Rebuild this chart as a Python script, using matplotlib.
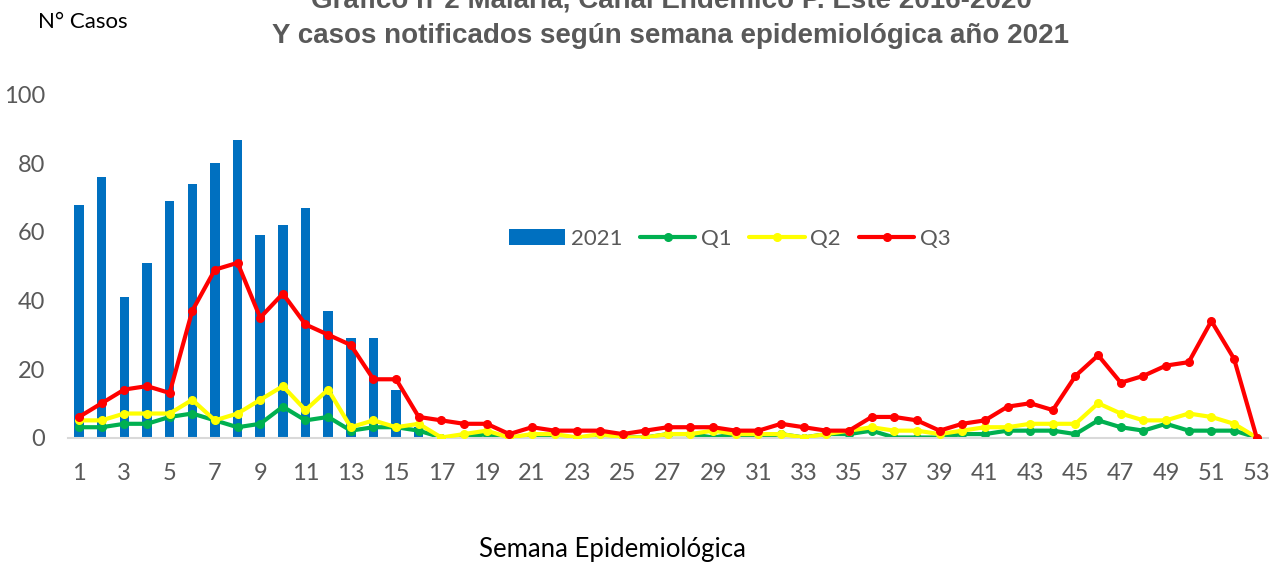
import matplotlib
matplotlib.use("Agg")
import matplotlib.pyplot as plt
import numpy as np

weeks = list(range(1, 54))
cases_2021 = [68, 76, 41, 51, 69, 74, 80, 87, 59, 62, 67, 37, 29, 29, 14, 3] + [0] * 37
q1 = [3, 3, 4, 4, 6, 7, 5, 3, 4, 9, 5, 6, 2, 3, 3, 2, 0, 0, 1, 0,
      0, 0, 0, 0, 0, 0, 1, 1, 0, 1, 0, 1, 0, 1, 1, 2, 0, 0, 0, 1,
      1, 2, 2, 2, 1, 5, 3, 2, 4, 2, 2, 2, 0]
q2 = [5, 5, 7, 7, 7, 11, 5, 7, 11, 15, 8, 14, 3, 5, 3, 4, 0, 1, 2, 0,
      1, 1, 0, 1, 0, 0, 1, 1, 2, 1, 1, 1, 0, 1, 2, 3, 2, 2, 1, 2,
      3, 3, 4, 4, 4, 10, 7, 5, 5, 7, 6, 4, 0]
q3 = [6, 10, 14, 15, 13, 37, 49, 51, 35, 42, 33, 30, 27, 17, 17, 6, 5, 4, 4, 1,
      3, 2, 2, 2, 1, 2, 3, 3, 3, 2, 2, 4, 3, 2, 2, 6, 6, 5, 2, 4,
      5, 9, 10, 8, 18, 24, 16, 18, 21, 22, 34, 23, 0]
xtick_labels = [str(w) for w in range(1, 54, 2)]

title_line1 = "Gráfico n°2 Malaria, Canal Endémico P. Este 2016-2020"
title_line2 = "Y casos notificados según semana epidemiológica año 2021"

W, H = 1272, 565
fig = plt.figure(figsize=(W / 100, H / 100), dpi=100)
y0, y100 = 437.5, 95
ax = fig.add_axes([67.7 / W, 1 - y0 / H, (1268 - 67.7) / W, (y0 - y100) / H])

gray = "#595959"
bars = ax.bar(weeks, cases_2021, width=0.42, color="#0070C0", label="2021", zorder=1)
l1, = ax.plot(weeks, q1, color="#00B050", lw=3, marker="o", ms=5.5, label="Q1", zorder=2,
              solid_capstyle="round", solid_joinstyle="round")
l2, = ax.plot(weeks, q2, color="#FFFF00", lw=3, marker="o", ms=5.5, label="Q2", zorder=3,
              solid_capstyle="round", solid_joinstyle="round")
l3, = ax.plot(weeks, q3, color="#FF0000", lw=3, marker="o", ms=5.5, label="Q3", zorder=4,
              solid_capstyle="round", solid_joinstyle="round")

ax.set_xlim(0.5, 53.5)
ax.set_ylim(0, 100)
ax.set_yticks(range(0, 101, 20))
ax.set_xticks(range(1, 54, 2))
ax.set_xticklabels(xtick_labels)
for s in ["top", "right", "left"]:
    ax.spines[s].set_visible(False)
ax.spines["bottom"].set_color("#D9D9D9")
ax.spines["bottom"].set_linewidth(1.5)
ax.tick_params(axis="both", length=0, labelsize=17, labelcolor=gray)
ax.tick_params(axis="y", pad=16)
ax.tick_params(axis="x", pad=18)
for lab in ax.get_xticklabels() + ax.get_yticklabels():
    lab.set_fontfamily("Lato")

leg = ax.legend([bars, l1, l2, l3], ["2021", "Q1", "Q2", "Q3"], loc="center",
                bbox_to_anchor=((730 - 67.7) / (1268 - 67.7), (y0 - 239) / (y0 - y100)),
                ncol=4, frameon=False, prop={"family": "Lato", "size": 16},
                handlelength=2.5, handletextpad=0.25, columnspacing=0.8)
for t in leg.get_texts():
    t.set_color(gray)

fig.text(671 / W, 1 - 7 / H, title_line1, ha="center", va="baseline", fontsize=20,
         fontweight="bold", color=gray, family="Liberation Sans")
fig.text(671 / W, 1 - 43 / H, title_line2, ha="center", va="baseline", fontsize=20,
         fontweight="bold", color=gray, family="Liberation Sans")
fig.text(83 / W, 1 - 22 / H, "N° Casos", ha="center", va="center", fontsize=16,
         family="Lato", color="black")
fig.text(612 / W, 1 - 550 / H, "Semana Epidemiológica", ha="center", va="center",
         fontsize=18.5, family="Lato", color="black")

fig.savefig("out.png", dpi=100)
